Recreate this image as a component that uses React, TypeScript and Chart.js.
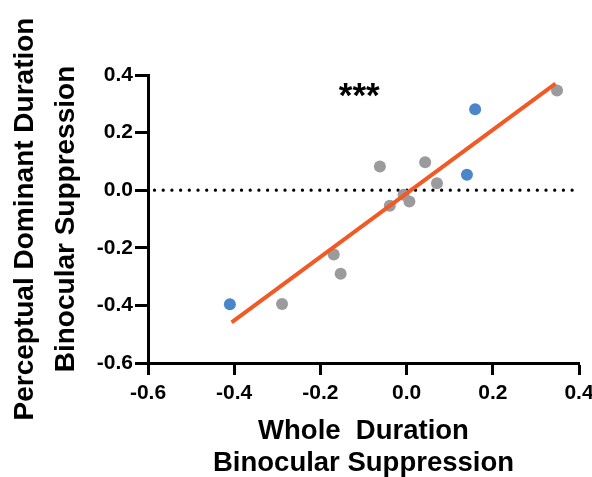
import React, { useEffect, useRef } from "react";
import { Chart, registerables } from "chart.js";

Chart.register(...registerables);

// Gray subjects
const grayX = [-0.289, -0.169, -0.153, -0.062, -0.039, -0.007, 0.0065, 0.043, 0.0705, 0.349];
const grayY = [-0.395, -0.223, -0.29, 0.082, -0.054, -0.016, -0.039, 0.097, 0.024, 0.346];
// Blue subjects
const blueX = [-0.41, 0.14, 0.159];
const blueY = [-0.396, 0.054, 0.281];
// Regression line end points
const fitX = [-0.406, 0.3455];
const fitY = [-0.459, 0.37];
// Zero reference line
const zeroX = [-0.585, 0.39];
const zeroY = [0, 0];
// Significance annotation
const sigText = "***";
const sigX = -0.11;
const sigY = 0.35;

const xTicks = [-0.6, -0.4, -0.2, 0.0, 0.2, 0.4];
const yTicks = [-0.6, -0.4, -0.2, 0.0, 0.2, 0.4];
const xTitle = ["Whole  Duration", "Binocular Suppression"];
const yTitle = ["Perceptual Dominant Duration", "Binocular Suppression"];

const FONT = "'Liberation Sans', Arial, Helvetica, sans-serif";

const pts = (xs: number[], ys: number[]) => xs.map((x, i) => ({ x, y: ys[i] }));

const sigPlugin = {
  id: "sig",
  afterDatasetsDraw(chart: any) {
    const { ctx, scales } = chart;
    const px = scales.x.getPixelForValue(sigX);
    const py = scales.y.getPixelForValue(sigY);
    ctx.save();
    ctx.font = `bold 35px ${FONT}`;
    ctx.fillStyle = "#000";
    ctx.textAlign = "center";
    ctx.textBaseline = "middle";
    ctx.fillText(sigText, px, py + 8);
    ctx.restore();
  },
};

export default function App() {
  const ref = useRef<HTMLCanvasElement | null>(null);
  useEffect(() => {
    if (!ref.current) return;
    const chart = new Chart(ref.current, {
      type: "scatter",
      data: {
        datasets: [
          {
            type: "line",
            data: pts(fitX, fitY),
            borderColor: "#F15A24",
            borderWidth: 4,
            pointRadius: 0,
            order: 0,
          } as any,
          {
            data: pts(blueX, blueY),
            backgroundColor: "#4A86C8",
            borderWidth: 0,
            pointRadius: 6,
            order: 1,
          },
          {
            data: pts(grayX, grayY),
            backgroundColor: "#9B9B9D",
            borderWidth: 0,
            pointRadius: 6,
            order: 2,
          },
          {
            type: "line",
            data: pts(zeroX, zeroY),
            borderColor: "#000",
            borderWidth: 3.2,
            borderDash: [0.1, 8.6],
            borderCapStyle: "round",
            pointRadius: 0,
            order: 3,
          } as any,
        ],
      },
      options: {
        responsive: false,
        animation: false,
        clip: false as any,
        layout: { padding: { top: 75, right: 13, left: 0, bottom: 0 } },
        plugins: { legend: { display: false }, tooltip: { enabled: false } },
        scales: {
          x: {
            type: "linear",
            min: -0.6,
            max: 0.4,
            afterBuildTicks: (s: any) => {
              s.ticks = xTicks.map((v) => ({ value: v }));
            },
            afterFit: (s: any) => {
              s.height = 114;
              s.paddingLeft = 0;
              s.paddingRight = 0;
            },
            border: { display: true, color: "#000", width: 3 },
            grid: {
              drawOnChartArea: false,
              drawTicks: true,
              tickLength: 12,
              tickColor: "#000",
              tickWidth: 3,
            },
            ticks: {
              color: "#000",
              padding: 6,
              maxRotation: 0,
              font: { family: FONT, size: 21, weight: "bold" },
              callback: (v: any) => Number(v).toFixed(1),
            },
            title: {
              display: true,
              text: xTitle,
              color: "#000",
              padding: { top: 0, bottom: -3 },
              font: { family: FONT, size: 27.5, weight: "bold", lineHeight: 1.17 },
            },
          },
          y: {
            type: "linear",
            min: -0.6,
            max: 0.4,
            afterBuildTicks: (s: any) => {
              s.ticks = yTicks.map((v) => ({ value: v }));
            },
            afterFit: (s: any) => {
              s.width = 148;
              s.paddingTop = 0;
              s.paddingBottom = 0;
            },
            border: { display: true, color: "#000", width: 3 },
            grid: {
              drawOnChartArea: false,
              drawTicks: true,
              tickLength: 13,
              tickColor: "#000",
              tickWidth: 3,
            },
            ticks: {
              color: "#000",
              padding: 2,
              font: { family: FONT, size: 21, weight: "bold" },
              callback: (v: any) => Number(v).toFixed(1),
            },
            title: {
              display: true,
              text: yTitle,
              color: "#000",
              padding: { top: 5, bottom: 0 },
              font: { family: FONT, size: 28, weight: "bold", lineHeight: 1.47 },
            },
          },
        },
      },
      plugins: [sigPlugin],
    });
    return () => chart.destroy();
  }, []);
  return (
    <div style={{ position: "fixed", left: 0, top: 0, width: 592, height: 477, background: "#fff" }}>
      <canvas ref={ref} width={592} height={477} style={{ width: 592, height: 477, display: "block" }} />
    </div>
  );
}
